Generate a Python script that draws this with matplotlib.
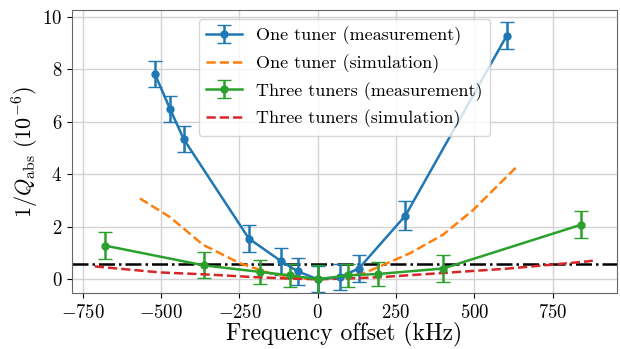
import numpy as np
import matplotlib
matplotlib.use("Agg")
import matplotlib.pyplot as plt

plt.rcParams['font.family'] = 'serif'
plt.rcParams['font.serif'] = ['cmr10']
plt.rcParams['mathtext.fontset'] = 'cm'
plt.rcParams['axes.formatter.use_mathtext'] = True

# one tuner, measurement
f1 = [-520, -472, -428, -220, -116, -64, 0, 70, 131, 280, 603]
q1 = [7.82, 6.5, 5.34, 1.55, 0.68, 0.3, 0.0, 0.08, 0.41, 2.43, 9.28]
e1 = [0.5, 0.5, 0.5, 0.52, 0.52, 0.5, 0.5, 0.5, 0.5, 0.55, 0.52]

# one tuner, simulation
fs1 = [-568, -472, -367, -249, -150, -60, 0, 60, 150, 198, 294, 400, 495, 638]
qs1 = [3.08, 2.37, 1.32, 0.61, 0.22, 0.04, 0.0, 0.04, 0.24, 0.49, 0.99, 1.7, 2.63, 4.32]

# three tuners, measurement
f3 = [-678, -364, -185, -89, 0, 97, 192, 400, 841]
q3 = [1.28, 0.53, 0.28, 0.15, 0.0, 0.15, 0.2, 0.41, 2.08]
e3 = [0.52, 0.5, 0.45, 0.45, 0.55, 0.45, 0.45, 0.5, 0.52]

# three tuners, simulation
fs3 = [-712, -504, -367, -200, -100, 0, 100, 200, 400, 600, 750, 860, 878]
qs3 = [0.49, 0.26, 0.19, 0.08, 0.03, 0.0, 0.03, 0.08, 0.24, 0.4, 0.56, 0.68, 0.71]

threshold = 0.6

fig = plt.figure(figsize=(6.2, 3.49), dpi=100)
ax = fig.add_axes([0.116, 0.16, 0.879, 0.811])

ax.axhline(threshold, color='black', linestyle='-.', linewidth=1.8)
h1 = ax.errorbar(f1, q1, yerr=e1, fmt='-o', color='#1f77b4', markersize=5, linewidth=1.8,
                 capsize=5, label='One tuner (measurement)')
h2, = ax.plot(fs1, qs1, '--', color='#ff7f0e', linewidth=1.8, label='One tuner (simulation)')
h3 = ax.errorbar(f3, q3, yerr=e3, fmt='-o', color='#2ca02c', markersize=5, linewidth=1.8,
                 capsize=5, label='Three tuners (measurement)')
h4, = ax.plot(fs3, qs3, '--', color='#d62728', linewidth=1.8, label='Three tuners (simulation)')

ax.set_xlim(-785, 955)
ax.set_ylim(-0.53, 10.26)
ax.set_xticks([-750, -500, -250, 0, 250, 500, 750])
ax.set_yticks([0, 2, 4, 6, 8, 10])
ax.tick_params(labelsize=13.5)
ax.tick_params(axis='x', pad=4)
ax.grid(True, color='#d3d3d3', linewidth=1)
for s in ax.spines.values():
    s.set_color('#666666')

ax.set_xlabel('Frequency offset (kHz)', fontsize=17, labelpad=0)
ax.set_ylabel(r'$1/Q_{\rm abs}\ (10^{-6})$', fontsize=16, labelpad=1)
ax.legend(handles=[h1, h2, h3, h4], loc='upper center', fontsize=13, framealpha=0.8)

fig.savefig('out.png', dpi=100)
